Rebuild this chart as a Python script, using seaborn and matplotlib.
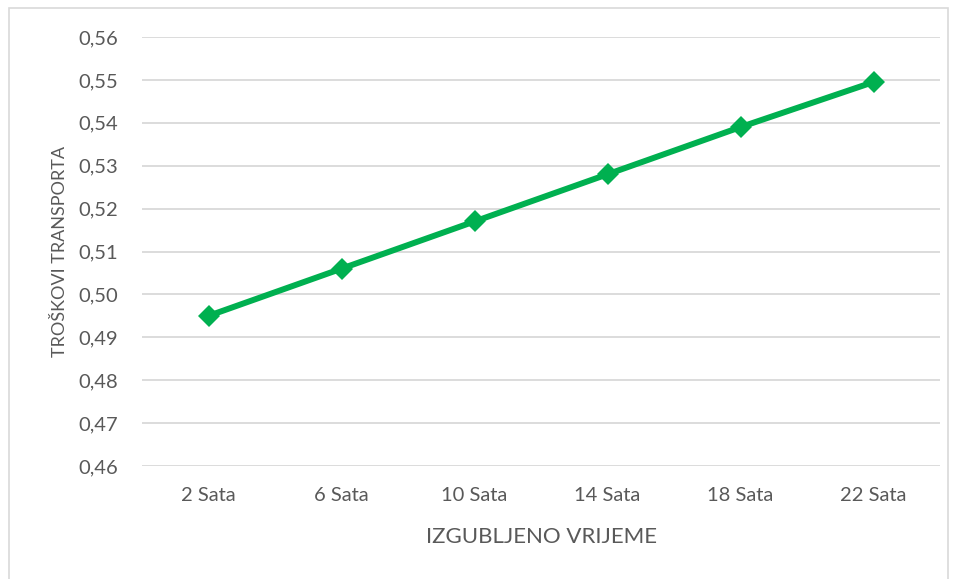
import pandas as pd
import seaborn as sns
import matplotlib.pyplot as plt
from matplotlib.ticker import FuncFormatter, MultipleLocator
from matplotlib.patches import Rectangle

categories = ["2 Sata", "6 Sata", "10 Sata", "14 Sata", "18 Sata", "22 Sata"]
costs = [0.495, 0.506, 0.517, 0.528, 0.539, 0.5495]

sns.set_theme(style="white")
plt.rcParams['font.family'] = ['Lato', 'DejaVu Sans']

df = pd.DataFrame({"vrijeme": categories, "troskovi": costs})

fig = plt.figure(figsize=(9.57, 5.79), dpi=100)
ax = fig.add_axes([142 / 957, 1 - 466 / 579, 798 / 957, 429 / 579])

sns.lineplot(data=df, x="vrijeme", y="troskovi", ax=ax, sort=False,
             color="#00B050", linewidth=4.3, marker="D", markersize=11,
             markeredgewidth=0)

ax.set_xlim(-0.5, 5.5)
ax.set_ylim(0.46, 0.56)
ax.yaxis.set_major_locator(MultipleLocator(0.01))
ax.yaxis.set_major_formatter(FuncFormatter(lambda v, p: f"{v:.2f}".replace(".", ",")))
ax.grid(axis="y", color="#D9D9D9", linewidth=1.3)
ax.grid(axis="x", visible=False)
ax.set_axisbelow(True)
for s in ax.spines.values():
    s.set_visible(False)
ax.tick_params(axis="both", length=0, labelsize=14.5, colors="#595959")
ax.tick_params(axis="y", pad=17)
ax.tick_params(axis="x", pad=15)

ax.set_xlabel("IZGUBLJENO VRIJEME", fontsize=16, color="#595959", labelpad=17)
ax.set_ylabel("TROŠKOVI TRANSPORTA", fontsize=13, color="#595959", labelpad=8)

# chart border like the Excel frame
fig.patches.append(Rectangle((9 / 957, -0.01), 939 / 957, 1 - 8 / 579 + 0.01,
                             transform=fig.transFigure, fill=False,
                             edgecolor="#D9D9D9", linewidth=1.2))

fig.savefig("out.png", dpi=100)
